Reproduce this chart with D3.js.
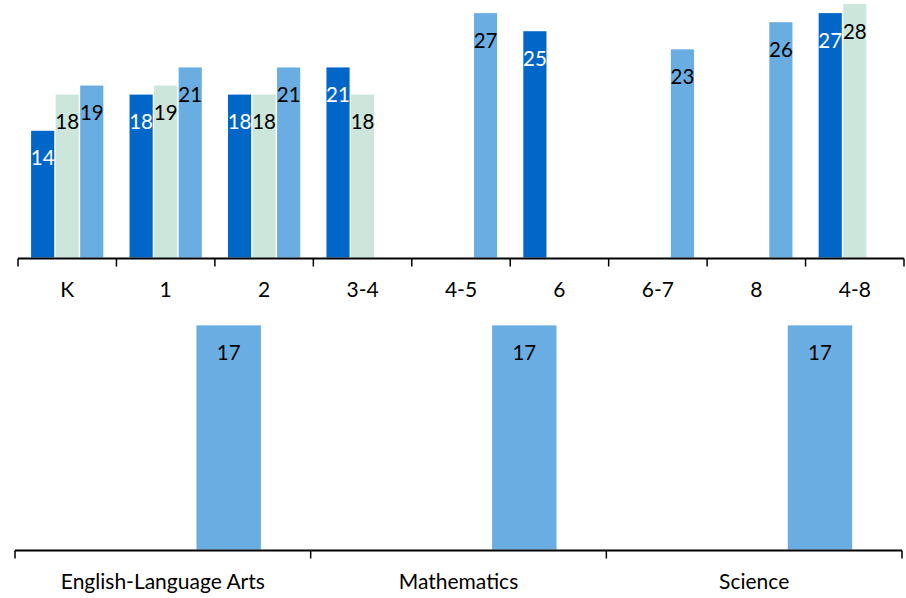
<!DOCTYPE html>
<html>
<head>
  <script src="https://cdn.jsdelivr.net/npm/d3@7"></script>
  <style>
    body { margin: 0; background: #fff; }
    text { font-family: Lato, "Open Sans", sans-serif; }
  </style>
</head>
<body>
  <script type="text/javascript">
    // data
    var gradeCats = ["K", "1", "2", "3-4", "4-5", "6", "6-7", "8", "4-8"];
    var seriesNames = ["A", "B", "C"];
    var gradeA = [14, 18, 18, 21, null, 25, null, null, 27];
    var gradeB = [18, 19, 18, 18, null, null, null, null, 28];
    var gradeC = [19, 21, 21, null, 27, null, 23, 26, null];

    var subjectCats = ["English-Language Arts", "Mathematics", "Science"];
    var subjectA = [null, null, null];
    var subjectB = [null, null, null];
    var subjectC = [17, 17, 17];

    var colors = ["#0066c8", "#cde6db", "#6aade3"];
    var labelColors = ["#ffffff", "#000000", "#000000"];

    var svg = d3.select("body").append("svg")
        .attr("width", 906)
        .attr("height", 598);

    function panel(cats, vals, opt) {
      var rows = cats.map(function (c, i) {
        return { cat: c, vals: vals.map(function (s, j) { return { k: j, v: s[i] }; }) };
      });

      var x0 = d3.scaleBand().domain(cats).range([opt.x0, opt.x1]);
      var step = x0.step();
      var x1 = d3.scaleBand().domain(d3.range(seriesNames.length))
          .range([opt.pad, step - opt.pad]);
      var y = d3.scaleLinear().domain([0, opt.max]).range([opt.base, opt.top]);

      var g = svg.append("g");

      var groups = g.selectAll(".grp")
          .data(rows)
          .enter().append("g")
          .attr("transform", function (d) { return "translate(" + x0(d.cat) + ",0)"; });

      var bars = groups.selectAll("g.bar")
          .data(function (d) { return d.vals.filter(function (e) { return e.v != null; }); })
          .enter().append("g").attr("class", "bar");

      bars.append("rect")
          .attr("x", function (d) { return x1(d.k) + 0.7; })
          .attr("width", x1.bandwidth() - 1.4)
          .attr("y", function (d) { return y(d.v); })
          .attr("height", function (d) { return y(0) - y(d.v); })
          .style("fill", function (d) { return colors[d.k]; });

      bars.append("text")
          .attr("x", function (d) { return x1(d.k) + x1.bandwidth() / 2; })
          .attr("y", function (d) { return y(d.v) + 34.5; })
          .attr("text-anchor", "middle")
          .style("font-size", "20.5px")
          .style("fill", function (d) { return labelColors[d.k]; })
          .text(function (d) { return d.v; });

      // axis line and ticks between the categories
      g.append("line")
          .attr("x1", opt.x0).attr("x2", opt.x1)
          .attr("y1", opt.base + 1).attr("y2", opt.base + 1)
          .style("stroke", "#000").style("stroke-width", 2);

      var edges = cats.map(function (c) { return x0(c); }).concat([opt.x1]);
      g.selectAll(".tk")
          .data(edges)
          .enter().append("line")
          .attr("x1", function (d) { return d; })
          .attr("x2", function (d) { return d; })
          .attr("y1", opt.base + 1)
          .attr("y2", opt.base + 9)
          .style("stroke", "#000").style("stroke-width", 1.5);

      var ax = g.append("g")
          .attr("transform", "translate(0," + opt.base + ")")
          .call(d3.axisBottom(x0).tickSize(0).tickPadding(0));
      ax.select(".domain").remove();
      ax.selectAll("text")
          .attr("dy", null)
          .attr("y", opt.labelY - opt.base)
          .style("font-size", "21px")
          .style("fill", "#000");
    }

    panel(gradeCats, [gradeA, gradeB, gradeC],
      { x0: 18, x1: 904, pad: 12.4, base: 257.5, top: 0, max: 28.45, labelY: 297 });

    panel(subjectCats, [subjectA, subjectB, subjectC],
      { x0: 15, x1: 902, pad: 49.1, base: 549.5, top: 299, max: 19, labelY: 589 });
  </script>
</body>
</html>
